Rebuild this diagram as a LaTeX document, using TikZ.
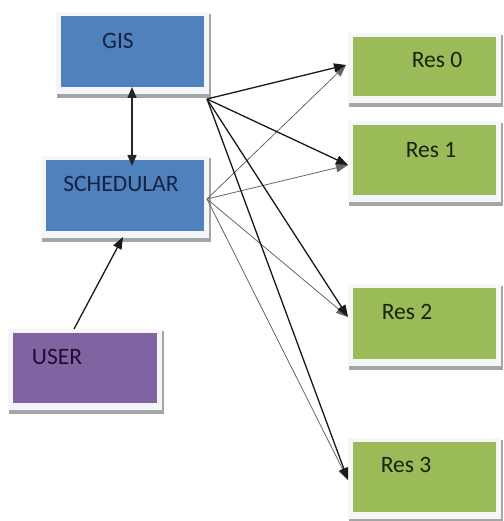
\documentclass[tikz,border=0pt]{standalone}
\usepackage{fontspec}
\setmainfont{Carlito}
\usetikzlibrary{arrows.meta}
\definecolor{boxblue}{RGB}{79,129,189}
\definecolor{boxgreen}{RGB}{155,187,89}
\definecolor{boxpurple}{RGB}{128,100,162}
\definecolor{framecol}{RGB}{244,246,250}
\definecolor{shadowgray}{RGB}{165,165,165}
\definecolor{txtblue}{RGB}{22,36,66}
\definecolor{txtgreen}{RGB}{24,36,10}
\definecolor{txtpurple}{RGB}{30,14,50}
\tikzset{
  inbox/.style={draw=none,fill=#1,inner sep=0pt,anchor=north west},
  lbl/.style={text=#1,inner sep=0pt,font=\fontsize{23.5}{28}\selectfont},
  gisline/.style={draw=black!90,line width=1.3pt,-{Triangle[length=12pt,width=9pt]}},
  schline/.style={draw=black!60,line width=0.8pt,-{Triangle[length=12pt,width=9pt]}},
  vline/.style={draw=black!85,line width=1.5pt,{Triangle[length=11pt,width=9pt]}-{Triangle[length=11pt,width=9pt]}},
}
\newcommand\officebox[6]{%
  \fill[shadowgray] (#2-4,#3-2) rectangle (#4+7,#5+11);
  \fill[framecol] (#2-5,#3-4) rectangle (#4+5,#5+7);
  \node[inbox=#6,minimum width=#4-#2,minimum height=#5-#3] (#1) at (#2,#3) {};
}
\begin{document}
\begin{tikzpicture}[x=1pt,y=-1pt]
\useasboundingbox (0,0) rectangle (503,521);
\officebox{gis}{61}{16}{204}{87}{boxblue}
\officebox{sched}{46}{160}{204}{231}{boxblue}
\officebox{user}{13}{333}{157}{403}{boxpurple}
\officebox{res0}{353}{37}{496}{96}{boxgreen}
\officebox{res1}{353}{125}{496}{195}{boxgreen}
\officebox{res2}{353}{288}{496}{359}{boxgreen}
\officebox{res3}{353}{442}{496}{512}{boxgreen}
\node[lbl=txtblue] (gist) at (118,41) {GIS};
\node[lbl=txtblue] (schedt) at (121,184) {SCHEDULAR};
\node[lbl=txtpurple] (usert) at (57,357) {USER};
\node[lbl=txtgreen] (res0t) at (437,60) {Res 0};
\node[lbl=txtgreen] (res1t) at (431,150) {Res 1};
\node[lbl=txtgreen] (res2t) at (407,312) {Res 2};
\node[lbl=txtgreen] (res3t) at (406,465) {Res 3};
\coordinate (gisout) at (207,99);
\coordinate (schout) at (207,199);
\coordinate (r0in) at (346,65);
\coordinate (r1in) at (348,165);
\coordinate (r2in) at (348,317);
\coordinate (r3in) at (348,480);
\coordinate (gisb) at (132,87);
\coordinate (scht) at (132,166);
\coordinate (userout) at (74,329);
\coordinate (schb) at (123,237);
\draw[schline] (schout) -- (r0in);
\draw[schline] (schout) -- (r1in);
\draw[schline] (schout) -- (r2in);
\draw[schline] (schout) -- (r3in);
\draw[gisline] (gisout) -- (r0in);
\draw[gisline] (gisout) -- (r1in);
\draw[gisline] (gisout) -- (r2in);
\draw[gisline] (gisout) -- (r3in);
\draw[vline] (gisb) -- (scht);
\draw[gisline] (userout) -- (schb);
\end{tikzpicture}
\end{document}
